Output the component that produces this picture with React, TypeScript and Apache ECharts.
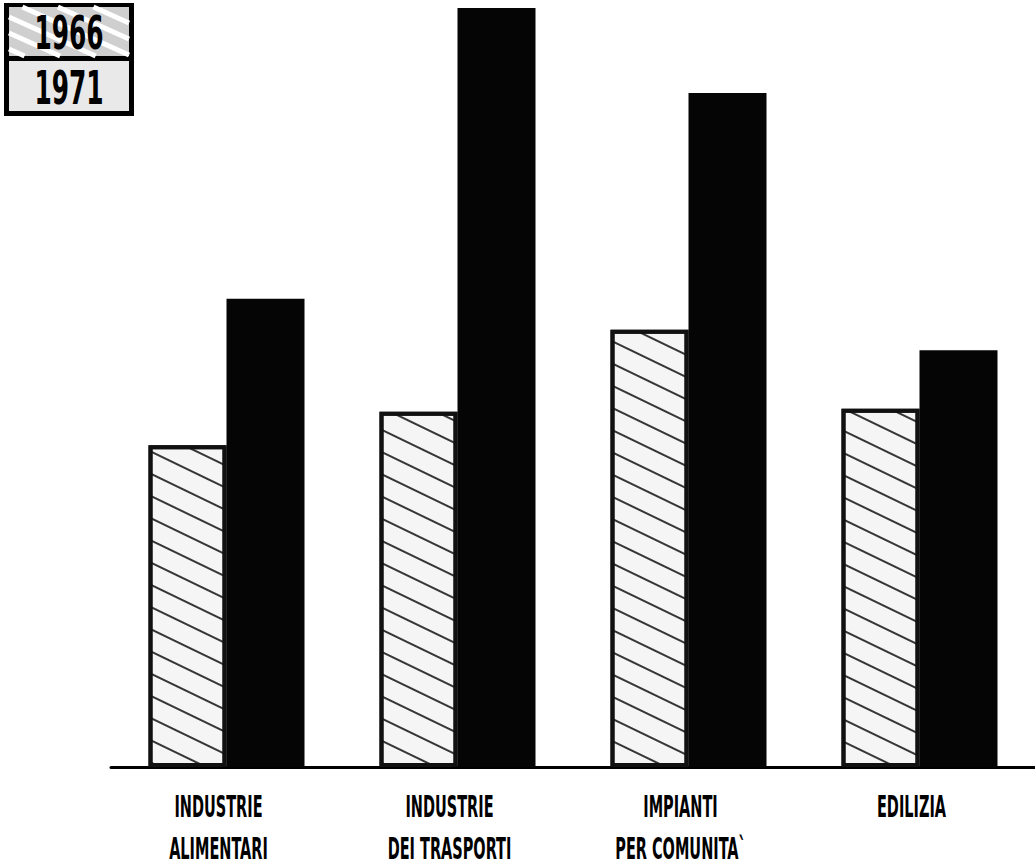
import React, { useEffect, useRef } from "react";
import * as echarts from "echarts";

const categories = [
  "INDUSTRIE\nALIMENTARI",
  "INDUSTRIE\nDEI TRASPORTI",
  "IMPIANTI\nPER COMUNITA`",
  "EDILIZIA",
];
const seriesNames = ["1966", "1971"];
const values1966 = [42.4, 46.8, 57.6, 47.2];
const values1971 = [61.7, 100, 88.8, 54.9];

const FONT = "'DejaVu Sans Condensed', 'Liberation Sans Narrow', sans-serif";

function hatchLines(x0: number, y0: number, w: number, h: number, slope: number, step: number) {
  const out: any[] = [];
  for (let c = -w * slope; c < h; c += step) {
    const xa = Math.max(0, -c / slope);
    const xb = Math.min(w, (h - c) / slope);
    if (xb <= xa) continue;
    out.push({
      type: "line",
      shape: {
        x1: x0 + xa,
        y1: y0 + c + slope * xa,
        x2: x0 + xb,
        y2: y0 + c + slope * xb,
      },
      style: { stroke: "#ffffff", lineWidth: 5 },
    });
  }
  return out;
}

export default function App() {
  const ref = useRef<HTMLDivElement>(null);
  useEffect(() => {
    if (!ref.current) return;
    const chart = echarts.init(ref.current, null, { renderer: "svg" });
    chart.setOption({
      animation: false,
      backgroundColor: "#ffffff",
      grid: { left: 111, width: 933, top: 8, bottom: 98 },
      xAxis: {
        type: "category",
        data: categories,
        axisLine: { lineStyle: { color: "#000", width: 3 } },
        axisTick: { show: false },
        axisLabel: { show: false },
      },
      yAxis: { type: "value", min: 0, max: 100, show: false },
      series: [
        {
          type: "bar",
          name: seriesNames[0],
          data: values1966,
          barWidth: 78,
          barGap: "0%",
          itemStyle: {
            color: "#f5f5f5",
            borderColor: "#111",
            borderWidth: 4,
            decal: {
              symbol: "rect",
              symbolSize: 1,
              color: "rgba(20,20,20,0.85)",
              dashArrayX: [1, 0],
              dashArrayY: [2, 18],
              rotation: 0.45,
            },
          },
        },
        {
          type: "bar",
          name: seriesNames[1],
          data: values1971,
          barWidth: 78,
          itemStyle: { color: "#050505" },
        },
      ],
    });

    const labelGraphics: any[] = [];
    categories.forEach((c, i) => {
      const cx = (chart.convertToPixel({ xAxisIndex: 0 }, i) as number) - 8;
      c.split("\n").forEach((line, j) => {
        labelGraphics.push({
          type: "text",
          x: cx,
          y: 806 + j * 42,
          scaleX: 0.52,
          style: {
            text: line,
            fill: "#000",
            font: `bold 31px ${FONT}`,
            lineHeight: 26,
            textAlign: "center",
            textVerticalAlign: "middle",
          },
        });
      });
    });

    const legend: any[] = [
      { type: "rect", shape: { x: 4, y: 3, width: 130, height: 113 }, style: { fill: "#000" } },
      { type: "rect", shape: { x: 9, y: 7, width: 120, height: 49 }, style: { fill: "#cfcfcf" } },
      ...hatchLines(9, 7, 120, 49, 0.45, 16),
      { type: "rect", shape: { x: 9, y: 61, width: 120, height: 50 }, style: { fill: "#e9e9e9" } },
      {
        type: "text",
        x: 69,
        y: 33,
        scaleX: 0.6,
        style: { text: seriesNames[0], fill: "#000", font: `bold 46px ${FONT}`, textAlign: "center", textVerticalAlign: "middle" },
      },
      {
        type: "text",
        x: 69,
        y: 88,
        scaleX: 0.6,
        style: { text: seriesNames[1], fill: "#000", font: `bold 46px ${FONT}`, textAlign: "center", textVerticalAlign: "middle" },
      },
    ];

    chart.setOption({ graphic: [...labelGraphics, ...legend] });
    return () => chart.dispose();
  }, []);
  return (
    <div
      ref={ref}
      style={{ position: "absolute", left: 0, top: 0, width: 1035, height: 865 }}
    />
  );
}
